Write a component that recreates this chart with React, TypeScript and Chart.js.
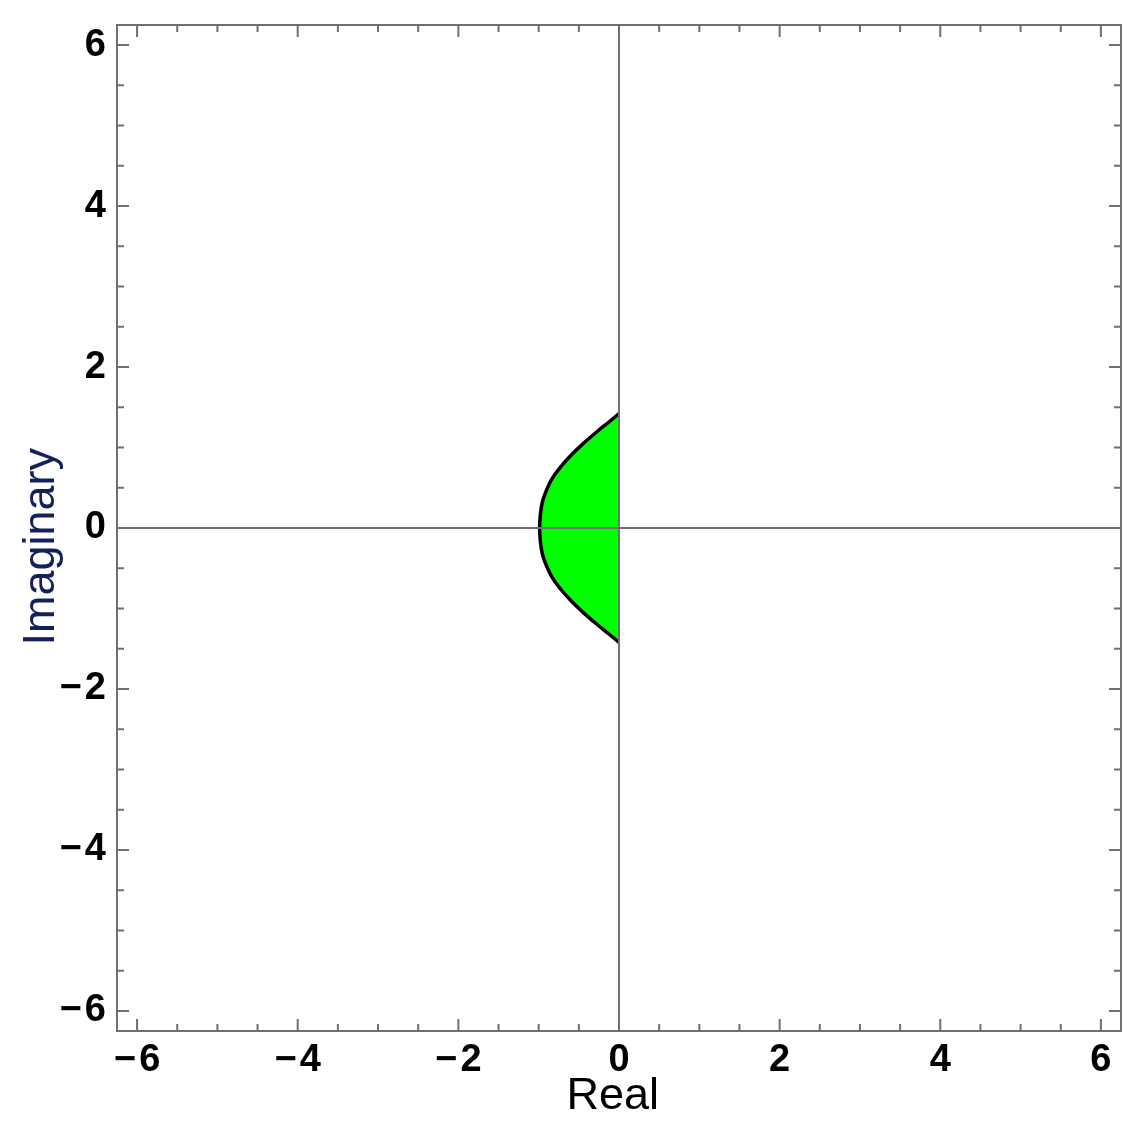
import React, { useEffect, useRef } from 'react';
import { Chart, registerables } from 'chart.js';

Chart.register(...registerables);

// Stability-region boundary, top end to bottom end
const BOUNDARY_RE = [0, -0.122, -0.283, -0.45, -0.6, -0.73, -0.835, -0.905, -0.955, -0.98, -0.988, -0.98, -0.955, -0.905, -0.835, -0.73, -0.6, -0.45, -0.283, -0.122, 0];
const BOUNDARY_IM = [1.42, 1.32, 1.19, 1.045, 0.9, 0.755, 0.61, 0.465, 0.32, 0.155, 0, -0.155, -0.32, -0.465, -0.61, -0.755, -0.9, -1.045, -1.19, -1.32, -1.42];

const MAJOR_TICKS = [-6, -4, -2, 0, 2, 4, 6];
const MINOR_TICKS = [-5.5, -5, -4.5, -3.5, -3, -2.5, -1.5, -1, -0.5, 0.5, 1, 1.5, 2.5, 3, 3.5, 4.5, 5, 5.5];
const AXIS_MIN = -6.25;
const AXIS_MAX = 6.25;

const X_TITLE = 'Real';
const Y_TITLE = 'Imaginary';

const FRAME_COLOR = '#707070';
const FILL_COLOR = '#00ff00';
const FONT_FAMILY = '"Liberation Sans", Arial, sans-serif';

const fmt = (v: number) => (v < 0 ? '\u2212\u200a' + Math.abs(v) : String(v));

const frameTicksPlugin = {
  id: 'frameTicks',
  afterDatasetsDraw(chart: any) {
    const { ctx, chartArea: a, scales } = chart;
    const xs = scales.x;
    const ys = scales.y;
    ctx.save();
    ctx.strokeStyle = FRAME_COLOR;
    ctx.lineWidth = 2;
    ctx.lineCap = 'butt';
    const x0 = xs.getPixelForValue(0);
    const y0 = ys.getPixelForValue(0);
    ctx.beginPath();
    ctx.moveTo(x0, a.top);
    ctx.lineTo(x0, a.bottom);
    ctx.moveTo(a.left, y0);
    ctx.lineTo(a.right, y0);
    ctx.stroke();
    const drawTicks = (vals: number[], len: number) => {
      ctx.beginPath();
      for (const v of vals) {
        const px = xs.getPixelForValue(v);
        ctx.moveTo(px, a.bottom);
        ctx.lineTo(px, a.bottom - len);
        ctx.moveTo(px, a.top);
        ctx.lineTo(px, a.top + len);
        const py = ys.getPixelForValue(v);
        ctx.moveTo(a.left, py);
        ctx.lineTo(a.left + len, py);
        ctx.moveTo(a.right, py);
        ctx.lineTo(a.right - len, py);
      }
      ctx.stroke();
    };
    drawTicks(MAJOR_TICKS, 12);
    drawTicks(MINOR_TICKS, 7);
    ctx.strokeRect(a.left, a.top, a.right - a.left, a.bottom - a.top);
    ctx.restore();
  },
};

export default function App() {
  const canvasRef = useRef<HTMLCanvasElement | null>(null);

  useEffect(() => {
    if (!canvasRef.current) return;
    const chart = new Chart(canvasRef.current, {
      type: 'line',
      data: {
        datasets: [
          {
            label: 'Stability region',
            data: BOUNDARY_RE.map((x, i) => ({ x, y: BOUNDARY_IM[i] })),
            borderColor: '#000000',
            borderWidth: 3.5,
            backgroundColor: FILL_COLOR,
            fill: 'shape',
            tension: 0.4,
            pointRadius: 0,
          },
        ],
      },
      options: {
        animation: false,
        responsive: true,
        maintainAspectRatio: false,
        layout: { padding: { top: 25, right: 25, bottom: 0, left: 0 } },
        plugins: {
          legend: { display: false },
          tooltip: { enabled: false },
        },
        scales: {
          x: {
            type: 'linear',
            min: AXIS_MIN,
            max: AXIS_MAX,
            afterBuildTicks: (s: any) => {
              s.ticks = MAJOR_TICKS.map((value) => ({ value }));
            },
            afterFit: (s: any) => {
              s.height = 108;
              s.paddingLeft = 0;
              s.paddingRight = 0;
            },
            grid: { display: false },
            border: { display: false },
            ticks: {
              callback: (v: any) => fmt(Number(v)),
              font: { family: FONT_FAMILY, size: 38, weight: 'bold', lineHeight: 1 },
              color: '#000000',
              padding: 3,
              maxRotation: 0,
              autoSkip: false,
            },
            title: {
              display: true,
              text: X_TITLE + ' ',
              font: { family: FONT_FAMILY, size: 45 },
              color: '#000000',
              padding: { top: 0, bottom: 15 },
            },
          },
          y: {
            type: 'linear',
            min: AXIS_MIN,
            max: AXIS_MAX,
            afterBuildTicks: (s: any) => {
              s.ticks = MAJOR_TICKS.map((value) => ({ value }));
            },
            afterFit: (s: any) => {
              s.width = 117;
              s.paddingTop = 0;
              s.paddingBottom = 0;
            },
            grid: { display: false },
            border: { display: false },
            ticks: {
              callback: (v: any) => fmt(Number(v)),
              font: { family: FONT_FAMILY, size: 38, weight: 'bold', lineHeight: 1 },
              color: '#000000',
              padding: 3,
              autoSkip: false,
            },
            title: {
              display: true,
              text: Y_TITLE + '   ',
              font: { family: FONT_FAMILY, size: 45 },
              color: '#14205a',
              padding: { top: 15, bottom: 0 },
            },
          },
        },
      },
      plugins: [frameTicksPlugin],
    });
    return () => chart.destroy();
  }, []);

  return (
    <div style={{ position: 'fixed', left: 0, top: 0, width: 1146, height: 1139, background: '#ffffff' }}>
      <canvas ref={canvasRef} />
    </div>
  );
}
